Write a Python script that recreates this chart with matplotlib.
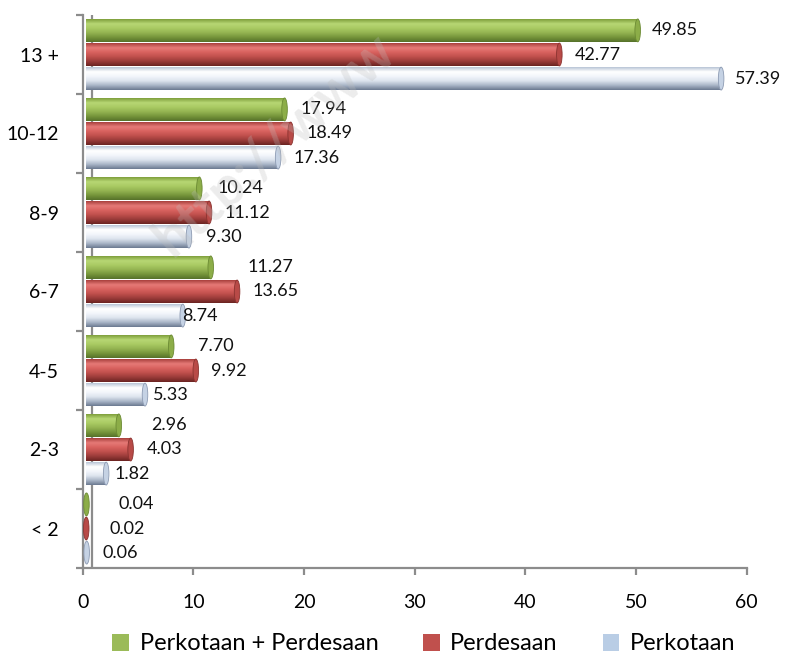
import numpy as np
import matplotlib
matplotlib.use("Agg")
import matplotlib.pyplot as plt
from matplotlib.patches import Rectangle, Ellipse, Patch
from matplotlib.colors import to_rgb

plt.rcParams['font.family'] = ['Lato', 'DejaVu Sans']

# ---- data ----
categories = ["13 +", "10-12", "8-9", "6-7", "4-5", "2-3", "< 2"]
series_names = ["Perkotaan + Perdesaan", "Perdesaan", "Perkotaan"]
total = [49.85, 17.94, 10.24, 11.27, 7.70, 2.96, 0.04]
rural = [42.77, 18.49, 11.12, 13.65, 9.92, 4.03, 0.02]
urban = [57.39, 17.36, 9.30, 8.74, 5.33, 1.82, 0.06]
x_ticks = [0, 10, 20, 30, 40, 50, 60]

# ---- styling ----
# label horizontal nudges (pixels) per series / category, mimicking Excel placement
label_dx = [
    [17, 19, 21, 40, 30, 36, 35],
    [19, 19, 19, 19, 19, 19, 27],
    [17, 19, 20, 3, 11, 12, 19],
]
# gradient stops (top -> bottom) for cylinder look
grad = [
    ["#7f9f3c", "#b7d774", "#a9ca63", "#93b351", "#75943a", "#56722a"],
    ["#a8403d", "#e67a77", "#d8625f", "#bf4f4c", "#993b39", "#6b2422"],
    ["#b9c5d6", "#ffffff", "#f3f6fb", "#dde4ee", "#a9b5c7", "#6c7a91"],
]
cap_col = ["#8cad48", "#b84a47", "#c5d2e4"]
cap_edge = ["#6b8a33", "#8a3330", "#8d9bb3"]
legend_col = ["#9bbb59", "#c0504d", "#b9cde5"]

W, H, DPI = 785, 658, 100
fig = plt.figure(figsize=(W / DPI, H / DPI), dpi=DPI)
ax = fig.add_axes([82.7 / W, 1 - 568 / H, (746.7 - 82.7) / W, (568 - 15) / H])

n = len(categories)
ypos = np.arange(n)[::-1]  # 13+ at top
offsets = [0.305, 0.0, -0.305]
bh = 0.29
depth = 0.3
cap_w = 0.5
series = [total, rural, urban]


def make_grad(stops):
    cols = np.array([to_rgb(c) for c in stops])
    t = np.linspace(0, 1, len(stops))
    tt = np.linspace(0, 1, 64)
    arr = np.stack([np.interp(tt, t, cols[:, k]) for k in range(3)], axis=1)
    return arr[:, None, :]


ax.set_xlim(0, 60)
ax.set_ylim(-0.5, n - 0.5)

for s, vals in enumerate(series):
    img = make_grad(grad[s])
    for i, v in enumerate(vals):
        yc = ypos[i] + offsets[s]
        y0, y1 = yc - bh / 2, yc + bh / 2
        rect = Rectangle((depth, y0), v, bh, facecolor='none', edgecolor='none')
        ax.add_patch(rect)
        im = ax.imshow(img, extent=[depth, depth + v, y0, y1], aspect='auto',
                       interpolation='bilinear', zorder=3, origin='upper')
        im.set_clip_path(rect)
        ax.add_patch(Ellipse((depth + v, yc), cap_w, bh, facecolor=cap_col[s],
                             edgecolor=cap_edge[s], linewidth=0.6, zorder=4))
        ax.annotate(f"{v:.2f}", xy=(v, yc), xytext=(label_dx[s][i], 0),
                    textcoords='offset pixels', ha='left', va='center',
                    fontsize=13, color='#111111', zorder=6)

ax.set_xlim(0, 60)
ax.set_ylim(-0.5, n - 0.5)

# inner 3D wall line
ax.axvline(0.85, color='#8c8c8c', linewidth=1.6, zorder=1)

for sp in ['top', 'right']:
    ax.spines[sp].set_visible(False)
for sp in ['left', 'bottom']:
    ax.spines[sp].set_color('#8c8c8c')
    ax.spines[sp].set_linewidth(1.6)

ax.set_xticks(x_ticks)
ax.set_xticklabels([str(t) for t in x_ticks], fontsize=14)
ax.tick_params(axis='x', length=5, width=1.6, color='#8c8c8c', pad=14)

ax.set_yticks(np.arange(-0.5, n, 1.0))
ax.set_yticklabels([])
ax.tick_params(axis='y', which='major', length=5, width=1.6, color='#8c8c8c')
ax.set_yticks(ypos, minor=True)
ax.set_yticklabels(categories, minor=True, fontsize=14)
ax.tick_params(axis='y', which='minor', length=0, pad=17)

handles = [Patch(facecolor=legend_col[k], edgecolor='none', label=series_names[k]) for k in range(3)]
fig.legend(handles=handles, loc='center', bbox_to_anchor=(0.54, 1 - 644 / H), ncol=3,
           frameon=False, fontsize=17, handlelength=0.7, handleheight=0.7,
           handletextpad=0.45, columnspacing=1.9)

# faint watermark
fig.text(0.35, 0.78, "http://www", fontsize=40, fontweight='bold', color='#bdbdbd',
         alpha=0.28, rotation=42, ha='center', va='center', zorder=10)

fig.savefig("out.png", dpi=DPI)
